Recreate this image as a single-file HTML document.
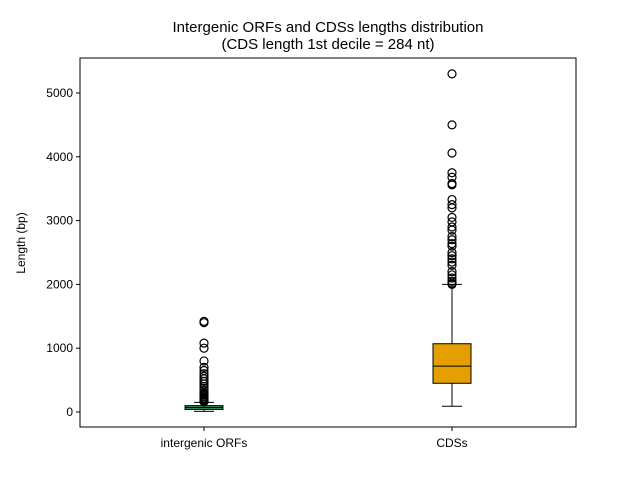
<!DOCTYPE html>
<html><head><meta charset="utf-8"><style>body{margin:0;background:#fff}svg{display:block;font-family:"Liberation Sans","DejaVu Sans",sans-serif}</style></head>
<body>
<svg id="c" width="640" height="480">
<rect width="640" height="480" fill="#fff"/>
<text x="328" y="32" text-anchor="middle" font-size="15">Intergenic ORFs and CDSs lengths distribution</text>
<text x="328" y="49" text-anchor="middle" font-size="15">(CDS length 1st decile = 284 nt)</text>
<text transform="translate(25,243) rotate(-90)" text-anchor="middle" font-size="12">Length (bp)</text>
<g id="g"></g>
<rect x="80" y="58" width="496" height="369" fill="none" stroke="#000" stroke-width="1"/>
</svg>
<script>
const categories=["intergenic ORFs","CDSs"];
const q1=[40,450];
const med=[70,720];
const q3=[100,1070];
const whiskLo=[10,90];
const whiskHi=[150,2000];
const fills=["#2e8b57","#e69f00"];
const outliers0=[1420,1400,1080,1000,800,700,650,600,560,520,480,440,400,370,340,310,290,270,250,230,210,200,190,180,170,160];
const outliers1=[5300,4500,4060,3750,3680,3580,3560,3330,3250,3200,3050,2980,2900,2850,2750,2700,2640,2600,2500,2450,2400,2350,2300,2200,2150,2100,2050,2020,2000];
const outliers=[outliers0,outliers1];
const yTicks=[0,1000,2000,3000,4000,5000];
const NS="http://www.w3.org/2000/svg";
const g=document.getElementById('g');
const y=v=>412-v*0.0638;
const x=i=>204+i*248;
function mk(t,a){const e=document.createElementNS(NS,t);for(const k in a)e.setAttribute(k,a[k]);g.appendChild(e);return e;}
yTicks.forEach(v=>{
 const l=mk('line',{x1:76,x2:80,y1:y(v),y2:y(v),stroke:'#000'});
 
 
 const t=mk('text',{x:73,y:y(v)+4,'text-anchor':'end','font-size':12});t.textContent=v;
 
 
});
categories.forEach((c,i)=>{
 const cx=x(i);
 const tk=mk('line',{x1:cx,x2:cx,y1:427,y2:431,stroke:'#000'});
 
 
 const t=mk('text',{x:cx,y:447,'text-anchor':'middle','font-size':12});t.textContent=c;
 
 
 const w1=mk('line',{x1:cx,x2:cx,y1:y(q3[i]),y2:y(whiskHi[i]),stroke:'#000'});
 
 
 const w2=mk('line',{x1:cx,x2:cx,y1:y(q1[i]),y2:y(whiskLo[i]),stroke:'#000'});
 
 
 [whiskHi[i],whiskLo[i]].forEach(v=>{
  const cap=mk('line',{x1:cx-10,x2:cx+10,y1:y(v),y2:y(v),stroke:'#000'});
  
  
 });
 const b=mk('rect',{x:cx-19,y:y(q3[i]),width:38,height:Math.max(1,y(q1[i])-y(q3[i])),fill:fills[i],stroke:'#000'});
 
 
 const m=mk('line',{x1:cx-19,x2:cx+19,y1:y(med[i]),y2:y(med[i]),stroke:'#000'});
 
 
 outliers[i].forEach(v=>{
  const o=mk('circle',{cx:cx,cy:y(v),r:4,fill:'none',stroke:'#000','stroke-width':1.2});
  
  
 });
});
</script>
</body></html>
